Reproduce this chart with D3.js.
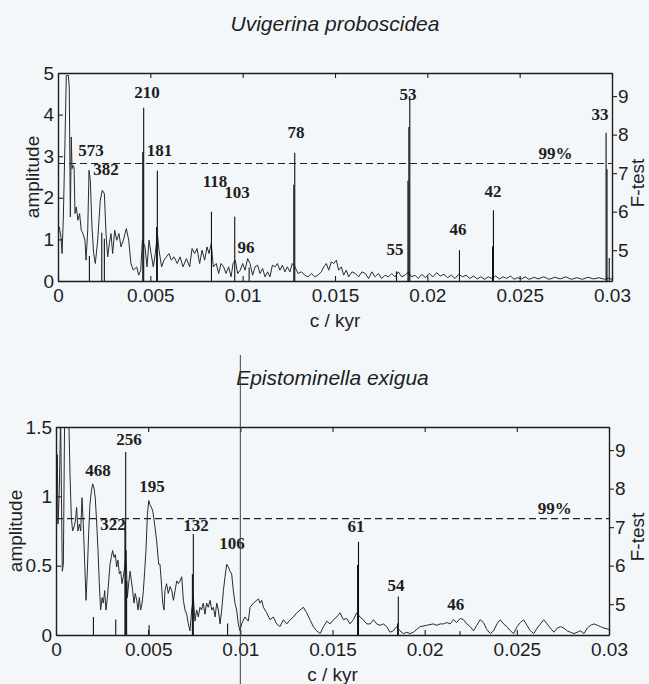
<!DOCTYPE html>
<html><head><meta charset="utf-8">
<script src="https://cdn.jsdelivr.net/npm/d3@7"></script>
<style>
body{margin:0;background:#f3f7fa;}
svg{display:block}
</style></head><body>
<svg id="chart" width="649" height="684"></svg>
<script>
// ---------- shared axis data ----------
const xTicks = [0, 0.005, 0.01, 0.015, 0.02, 0.025, 0.03];
const xTickLabels = ["0", "0.005", "0.01", "0.015", "0.02", "0.025", "0.03"];
const fTicks = [5, 6, 7, 8, 9];
const fDomain = [4.2, 9.6];
const xTitle = "c / kyr";
const yTitle = "amplitude";
const y2Title = "F-test";
const critLabel = "99%";

// ---------- Uvigerina proboscidea ----------
const uvTitle = "Uvigerina proboscidea";
const uvYTicks = [0, 1, 2, 3, 4, 5];
const uvYDomain = [0, 5];
// [frequency ×10⁻³ c/kyr, amplitude]
const uvSpectrum = [[0,1.22],[0.07,1.3],[0.16,1.06],[0.22,0.66],[0.29,1.54],[0.38,3.4],[0.45,4.94],[0.56,4.94],[0.61,4.66],[0.67,1.54],[0.72,3.46],[0.76,2.7],[0.81,2.78],[0.87,2.74],[0.92,1.62],[0.99,1.78],[1.08,1.46],[1.17,1.62],[1.26,1.22],[1.35,1.14],[1.46,0.98],[1.52,0.5],[1.61,1.22],[1.68,2.66],[1.75,2.42],[1.84,1.3],[1.93,0.66],[2.02,0.42],[2.15,0.98],[2.29,1.94],[2.40,2.18],[2.51,2.1],[2.60,1.14],[2.69,0.58],[2.78,0.9],[2.87,1.14],[2.96,0.66],[3.07,1.22],[3.18,0.98],[3.30,1.14],[3.41,0.82],[3.54,0.98],[3.70,1.26],[3.83,0.98],[3.95,0.42],[4.08,0.26],[4.26,0.34],[4.37,0.14],[4.48,0.26],[4.57,0.98],[4.71,0.82],[4.82,0.34],[4.93,0.98],[5.04,0.66],[5.16,0.34],[5.27,0.66],[5.38,1.14],[5.47,0.74],[5.61,0.34],[5.74,0.5],[5.87,0.58],[6.01,0.66],[6.14,0.5],[6.28,0.58],[6.46,0.42],[6.61,0.58],[6.77,0.34],[6.95,0.54],[7.13,0.34],[7.26,0.78],[7.40,0.66],[7.53,0.78],[7.67,0.42],[7.80,0.74],[7.94,0.5],[8.07,0.82],[8.18,0.66],[8.30,0.9],[8.41,0.34],[8.57,0.42],[8.70,0.18],[8.83,0.42],[8.97,0.34],[9.10,0.18],[9.24,0.34],[9.37,0.1],[9.48,0.42],[9.60,0.5],[9.73,0.18],[9.87,0.26],[10.00,0.42],[10.13,0.26],[10.27,0.54],[10.40,0.42],[10.54,0.14],[10.67,0.34],[10.81,0.38],[10.94,0.18],[11.08,0.3],[11.21,0.1],[11.35,0.22],[11.48,0.1],[11.61,0.38],[11.75,0.34],[11.88,0.42],[12.02,0.26],[12.15,0.38],[12.29,0.22],[12.42,0.34],[12.56,0.22],[12.69,0.42],[12.83,0.34],[13.00,0.18],[13.18,0.22],[13.36,0.14],[13.54,0.1],[13.72,0.18],[13.90,0.1],[14.08,0.14],[14.26,0.22],[14.39,0.34],[14.53,0.42],[14.66,0.26],[14.80,0.46],[14.93,0.42],[15.07,0.5],[15.20,0.26],[15.34,0.34],[15.47,0.14],[15.61,0.26],[15.74,0.1],[15.92,0.22],[16.10,0.18],[16.28,0.1],[16.46,0.22],[16.64,0.18],[16.82,0.06],[17.00,0.22],[17.17,0.1],[17.35,0.18],[17.53,0.06],[17.71,0.14],[17.89,0.1],[18.07,0.18],[18.25,0.1],[18.43,0.22],[18.61,0.1],[18.79,0.14],[18.97,0.22],[19.15,0.1],[19.33,0.14],[19.51,0.06],[19.7,0.16],[19.9,0.08],[20.1,0.18],[20.3,0.1],[20.5,0.2],[20.7,0.12],[20.9,0.16],[21.1,0.08],[21.3,0.14],[21.5,0.06],[21.7,0.16],[21.9,0.1],[22.1,0.14],[22.3,0.06],[22.5,0.12],[22.7,0.05],[22.9,0.1],[23.1,0.04],[23.3,0.1],[23.5,0.06],[23.7,0.12],[23.9,0.05],[24.1,0.1],[24.3,0.06],[24.5,0.12],[24.7,0.04],[24.9,0.08],[25.1,0.05],[25.3,0.1],[25.5,0.04],[25.8,0.09],[26.0,0.05],[26.3,0.1],[26.6,0.04],[26.9,0.09],[27.2,0.05],[27.5,0.1],[27.8,0.04],[28.1,0.08],[28.4,0.04],[28.7,0.09],[29.0,0.05],[29.3,0.08],[29.6,0.04],[29.8,0.07],[30,0.04]];
// F-test stems: [frequency ×10⁻³ c/kyr, F value]
const uvStems = [[1.70,4.85],[2.37,5.45],[2.51,5.3],[4.64,8.7],[4.59,7.55],[5.38,7.06],[5.34,5.6],[8.31,6.0],[9.57,5.87],[10.35,4.55],[12.82,7.53],[12.77,6.7],[18.33,4.45],[19.05,9.0],[19.00,8.2],[18.95,6.8],[21.74,5.0],[23.58,6.04],[23.53,5.1],[29.68,8.05],[29.73,7.1],[29.85,4.8]];
// period labels (kyr) and their anchor [frequency ×10⁻³, amplitude]
const uvLabels = ["210","573","382","181","118","103","96","78","55","53","46","42","33"];
const uvLabelPos = [[4.82,4.40],[1.79,3.0],[2.60,2.55],[5.50,3.0],[8.50,2.26],[9.69,2.0],[10.18,0.67],[12.89,3.44],[18.25,0.63],[18.95,4.35],[21.66,1.11],[23.56,2.02],[29.35,3.87]];
const uvCrit = 7.25;
const uvCritLabelPos = [26.94, 2.93];

// ---------- Epistominella exigua ----------
const epTitle = "Epistominella exigua";
const epYTicks = [0, 0.5, 1, 1.5];
const epYTickLabels = ["0", "0.5", "1", "1.5"];
const epYDomain = [0, 1.5];
const epSpectrum = [[0,1.07],[0.04,0.82],[0.07,1.30],[0.11,0.80],[0.18,1.04],[0.25,1.6],[0.34,0.46],[0.40,0.51],[0.47,1.6],[0.61,1.7],[0.71,1.47],[0.76,1.16],[0.83,0.85],[0.90,0.75],[0.98,0.78],[1.05,0.82],[1.12,0.92],[1.19,0.75],[1.27,0.80],[1.34,0.75],[1.41,0.99],[1.48,0.80],[1.56,0.51],[1.63,0.25],[1.70,0.46],[1.77,0.73],[1.84,0.94],[1.92,1.04],[1.99,1.09],[2.06,1.06],[2.13,0.99],[2.21,0.80],[2.28,0.61],[2.35,0.37],[2.42,0.18],[2.50,0.27],[2.57,0.23],[2.64,0.32],[2.71,0.18],[2.79,0.27],[2.86,0.39],[2.93,0.51],[3.00,0.56],[3.07,0.61],[3.15,0.56],[3.22,0.58],[3.29,0.49],[3.36,0.54],[3.44,0.44],[3.51,0.46],[3.58,0.37],[3.65,0.42],[3.73,0.49],[3.80,0.61],[3.87,0.27],[3.94,0.37],[4.02,0.46],[4.09,0.39],[4.16,0.32],[4.23,0.23],[4.30,0.30],[4.38,0.25],[4.45,0.18],[4.52,0.27],[4.59,0.18],[4.67,0.23],[4.74,0.32],[4.81,0.46],[4.88,0.61],[4.96,0.87],[5.03,0.97],[5.10,0.94],[5.24,0.90],[5.35,0.80],[5.46,0.68],[5.57,0.51],[5.64,0.51],[5.71,0.39],[5.79,0.23],[5.86,0.18],[5.91,0.32],[6.00,0.37],[6.09,0.30],[6.19,0.35],[6.28,0.32],[6.37,0.25],[6.46,0.32],[6.55,0.39],[6.64,0.37],[6.73,0.39],[6.82,0.42],[6.91,0.25],[7.00,0.18],[7.09,0.15],[7.18,0.08],[7.27,0.03],[7.36,0.18],[7.45,0.27],[7.54,0.10],[7.63,0.18],[7.72,0.13],[7.81,0.20],[7.90,0.18],[7.99,0.23],[8.08,0.15],[8.17,0.23],[8.26,0.20],[8.36,0.25],[8.45,0.18],[8.54,0.20],[8.63,0.13],[8.72,0.23],[8.81,0.18],[8.90,0.08],[8.99,0.18],[9.08,0.32],[9.17,0.42],[9.26,0.51],[9.35,0.49],[9.44,0.46],[9.53,0.44],[9.62,0.32],[9.71,0.23],[9.80,0.18],[9.89,0.08],[9.98,0.03],[10.07,0.08],[10.25,0.13],[10.43,0.10],[10.53,0.20],[10.71,0.23],[10.89,0.25],[10.98,0.26],[11.07,0.23],[11.16,0.25],[11.25,0.20],[11.43,0.16],[11.61,0.11],[11.79,0.13],[11.97,0.08],[12.15,0.06],[12.34,0.11],[12.52,0.08],[12.70,0.11],[12.88,0.13],[13.06,0.16],[13.24,0.18],[13.42,0.20],[13.60,0.16],[13.78,0.11],[13.96,0.06],[14.14,0.03],[14.33,0.01],[14.51,0.06],[14.69,0.10],[14.87,0.08],[15.05,0.11],[15.23,0.13],[15.41,0.16],[15.59,0.11],[15.77,0.12],[15.95,0.08],[16.13,0.11],[16.31,0.16],[16.49,0.13],[16.67,0.11],[16.86,0.08],[17.04,0.08],[17.22,0.11],[17.40,0.08],[17.58,0.07],[17.76,0.08],[17.94,0.06],[18.12,0.02],[18.30,0.03],[18.48,0.06],[18.66,0.03],[18.85,0.01],[19.03,0.02],[19.21,0.01],[19.39,0.02],[19.57,0.04],[19.75,0.06],[20.11,0.07],[20.47,0.08],[20.66,0.07],[20.84,0.08],[21.02,0.08],[21.20,0.09],[21.38,0.08],[21.56,0.11],[21.74,0.09],[21.92,0.12],[22.11,0.11],[22.29,0.08],[22.47,0.06],[22.65,0.03],[22.83,0.07],[23.01,0.11],[23.19,0.09],[23.37,0.04],[23.56,0.01],[23.74,0.03],[23.92,0.08],[24.10,0.11],[24.28,0.08],[24.46,0.06],[24.65,0.03],[24.83,0.01],[25.01,0.06],[25.19,0.09],[25.37,0.11],[25.55,0.07],[25.73,0.03],[25.92,0.01],[26.10,0.05],[26.28,0.08],[26.46,0.11],[26.64,0.08],[26.82,0.05],[27.01,0.02],[27.19,0.05],[27.37,0.06],[27.55,0.05],[27.73,0.03],[27.91,0.02],[28.10,0.01],[28.28,0.02],[28.46,0.03],[28.64,0.01],[28.82,0.05],[29.00,0.07],[29.19,0.08],[29.37,0.07],[29.55,0.06],[29.73,0.05],[30.0,0.04]];
const epStems = [[2.03,4.67],[3.24,4.6],[3.78,8.95],[3.74,7.14],[3.83,5.6],[5.05,4.45],[7.45,6.82],[7.40,5.78],[9.31,4.5],[16.41,6.62],[16.36,6.02],[18.57,5.2],[18.53,4.5],[21.92,4.3]];
const epLabels = ["256","468","195","322","132","106","61","54","46"];
const epLabelPos = [[3.96,1.37],[2.28,1.15],[5.21,1.03],[3.09,0.76],[7.60,0.75],[9.55,0.62],[16.28,0.74],[18.45,0.32],[21.68,0.18]];
const epCrit = 7.22;
const epCritLabelPos = [27.06, 0.87];

// ---------- drawing ----------
const svg = d3.select("#chart");
const INK = "#1e1e1e";
const SANS = "'Liberation Sans', Arial, sans-serif";
const SERIF = "'Liberation Serif', 'Times New Roman', serif";

function drawPanel(box, d, id) {
  const x = d3.scaleLinear().domain([0, 0.03]).range([box.left, box.right]);
  const y = d3.scaleLinear().domain(d.yDomain).range([box.bottom, box.top]);
  const yF = d3.scaleLinear().domain(fDomain).range([box.bottom, box.top]);
  const g = svg.append("g");

  g.append("clipPath").attr("id", "clip" + id).append("rect")
    .attr("x", box.left).attr("y", box.top)
    .attr("width", box.right - box.left).attr("height", box.bottom - box.top);

  // title
  g.append("text").attr("x", (box.left + box.right) / 2).attr("y", box.top - 42)
    .attr("text-anchor", "middle").attr("font-family", SANS).attr("font-style", "italic")
    .attr("font-size", 21).attr("fill", INK).text(d.title);

  // spectrum
  const line = d3.line().x(p => x(p[0] / 1000)).y(p => y(p[1]));
  g.append("path").datum(d.spectrum).attr("d", line)
    .attr("clip-path", "url(#clip" + id + ")")
    .attr("fill", "none").attr("stroke", "#2a2a2a").attr("stroke-width", 1)
    .attr("stroke-linejoin", "round");

  // F-test stems
  g.append("g").selectAll("line").data(d.stems).join("line")
    .attr("x1", s => x(s[0] / 1000)).attr("x2", s => x(s[0] / 1000))
    .attr("y1", yF(fDomain[0])).attr("y2", s => yF(s[1]))
    .attr("stroke", "#111").attr("stroke-width", 1.1);

  // 99% line
  g.append("line").attr("x1", box.left).attr("x2", box.right)
    .attr("y1", yF(d.crit)).attr("y2", yF(d.crit))
    .attr("stroke", "#222").attr("stroke-width", 1.1).attr("stroke-dasharray", "7,4");
  g.append("text").attr("x", x(d.critPos[0] / 1000)).attr("y", y(d.critPos[1]))
    .attr("text-anchor", "middle").attr("font-family", SERIF).attr("font-weight", "bold")
    .attr("font-size", 17).attr("fill", INK).text(critLabel);

  // period labels
  g.append("g").selectAll("text").data(d.labels).join("text")
    .attr("x", (t, i) => x(d.labelPos[i][0] / 1000))
    .attr("y", (t, i) => y(d.labelPos[i][1]))
    .attr("text-anchor", "middle").attr("font-family", SERIF).attr("font-weight", "bold")
    .attr("font-size", 17).attr("fill", INK).text(t => t);

  // axes
  const styleAxis = sel => {
    sel.selectAll("path.domain").attr("stroke", INK).attr("stroke-width", 1.4);
    sel.selectAll(".tick line").attr("stroke", INK).attr("stroke-width", 1.1);
    sel.selectAll("text").attr("font-family", SANS).attr("font-size", 19).attr("fill", INK);
  };
  g.append("g").attr("transform", `translate(0,${box.bottom})`)
    .call(d3.axisBottom(x).tickValues(xTicks).tickFormat((v, i) => xTickLabels[i])
      .tickSizeInner(-5).tickSizeOuter(0).tickPadding(8)).call(styleAxis);
  g.append("g").attr("transform", `translate(0,${box.top})`)
    .call(d3.axisTop(x).tickValues(xTicks).tickFormat("")
      .tickSizeInner(-5).tickSizeOuter(0)).call(styleAxis);
  g.append("g").attr("transform", `translate(${box.left},0)`)
    .call(d3.axisLeft(y).tickValues(d.yTicks).tickFormat((v, i) => d.yTickLabels[i])
      .tickSizeInner(-5).tickSizeOuter(0).tickPadding(4)).call(styleAxis);
  g.append("g").attr("transform", `translate(${box.right},0)`)
    .call(d3.axisRight(yF).tickValues(fTicks).tickFormat(d3.format("d"))
      .tickSizeInner(5).tickSizeOuter(0).tickPadding(1)).call(styleAxis);

  // axis titles
  g.append("text").attr("x", (box.left + box.right) / 2).attr("y", box.bottom + 46)
    .attr("text-anchor", "middle").attr("font-family", SANS).attr("font-size", 19)
    .attr("fill", INK).text(xTitle);
  g.append("text").attr("transform", `translate(${box.yTitleX},${(box.top + box.bottom) / 2}) rotate(-90)`)
    .attr("text-anchor", "middle").attr("font-family", SANS).attr("font-size", 19)
    .attr("fill", INK).text(yTitle);
  g.append("text").attr("transform", `translate(644,${(box.top + box.bottom) / 2 + 6}) rotate(-90)`)
    .attr("text-anchor", "middle").attr("font-family", SANS).attr("font-size", 19)
    .attr("fill", INK).text(y2Title);
  return x;
}

drawPanel({left: 58, right: 612, top: 73, bottom: 281, yTitleX: 39}, {
  title: uvTitle, yDomain: uvYDomain, yTicks: uvYTicks, yTickLabels: uvYTicks.map(String),
  spectrum: uvSpectrum, stems: uvStems, labels: uvLabels, labelPos: uvLabelPos,
  crit: uvCrit, critPos: uvCritLabelPos
}, "uv");

const xEp = drawPanel({left: 56, right: 609, top: 427, bottom: 635, yTitleX: 22}, {
  title: epTitle, yDomain: epYDomain, yTicks: epYTicks, yTickLabels: epYTickLabels,
  spectrum: epSpectrum, stems: epStems, labels: epLabels, labelPos: epLabelPos,
  crit: epCrit, critPos: epCritLabelPos
}, "ep");

// fold line of the scanned page
svg.append("line").attr("x1", xEp(0.01)).attr("x2", xEp(0.01))
  .attr("y1", 355).attr("y2", 684).attr("stroke", "#444").attr("stroke-width", 1);
</script>
</body></html>
